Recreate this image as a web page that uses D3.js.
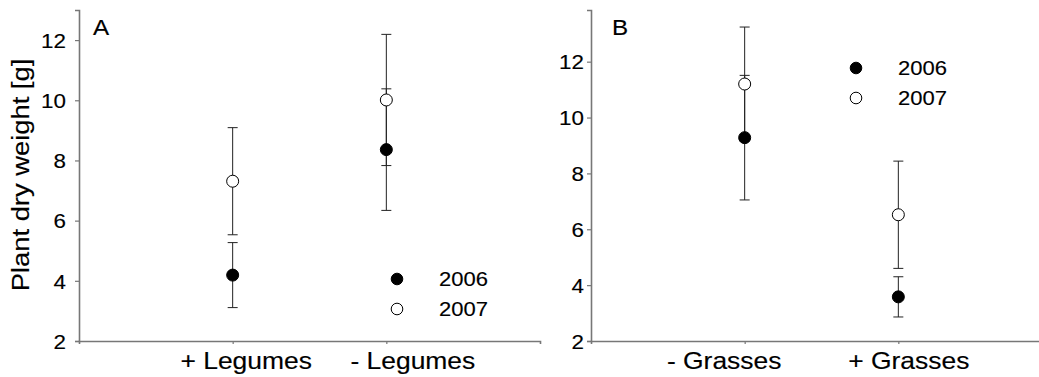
<!DOCTYPE html>
<html>
<head>
<meta charset="utf-8">
<script src="https://cdn.jsdelivr.net/npm/d3@7"></script>
<style>
  body { margin: 0; background: #fff; }
  svg { display: block; font-family: "Liberation Sans", Arial, Helvetica, sans-serif; }
  svg text { fill: #000; stroke: #000; stroke-width: 0.15px; }
</style>
</head>
<body>
<script>
// panel A: legumes
var categoriesA = ["+ Legumes", "- Legumes"];
var mean2006A = [4.19, 8.36];
var err2006A = [1.08, 2.02];
var mean2007A = [7.31, 10.01];
var err2007A = [1.78, 2.18];

// panel B: grasses
var categoriesB = ["- Grasses", "+ Grasses"];
var mean2006B = [9.28, 3.58];
var err2006B = [2.23, 0.72];
var mean2007B = [11.2, 6.52];
var err2007B = [2.04, 1.92];

var years = ["2006", "2007"];
var yTicks = [2, 4, 6, 8, 10, 12];
var yLabel = "Plant dry weight [g]";

var svgWidth = 1039;
var svgHeight = 377;
var axisBottom = 341;
var axisTop = 10;
var axisWidth = 461;
var stretch = 1.12;   // the original type is set a little wide

var svg = d3.select("body")
            .append("svg")
            .attr("width", svgWidth)
            .attr("height", svgHeight);

var panels = [
  {letter: "A", left: 79, yMax: 13, cats: categoriesA, tickGap: 13,
   m06: mean2006A, e06: err2006A, m07: mean2007A, e07: err2007A,
   legX: 318, legY: 279, labelShift: [13, 26], letterX: 14},
  {letter: "B", left: 591, yMax: 13.85, cats: categoriesB, tickGap: 7,
   m06: mean2006B, e06: err2006B, m07: mean2007B, e07: err2007B,
   legX: 265, legY: 68, labelShift: [-21, 10], letterX: 21}
];

panels.forEach(function(p) {
  var g = svg.append("g").attr("transform", "translate(" + p.left + ",0)");

  var yScale = d3.scaleLinear()
                 .domain([2, p.yMax])
                 .range([axisBottom, axisTop]);

  var xScale = d3.scalePoint()
                 .domain(p.cats)
                 .range([0, axisWidth])
                 .padding(1);

  // y axis
  var yAxis = g.append("g")
               .call(d3.axisLeft(yScale).tickValues(yTicks).tickSizeOuter(0).tickSize(4));
  yAxis.selectAll("text")
       .attr("x", null).attr("dy", "0.36em")
       .attr("transform", "translate(" + (-p.tickGap) + ",0) scale(" + stretch + ",1)")
       .style("font-size", "20px");

  // x axis
  var xAxis = g.append("g")
               .attr("transform", "translate(0," + axisBottom + ")")
               .call(d3.axisBottom(xScale).tickSizeOuter(0).tickSize(3));
  xAxis.selectAll("text")
       .attr("y", null).attr("dy", null)
       .attr("transform", function(d, i) {
         return "translate(" + p.labelShift[i] + ",28) scale(1.15,1)";
       })
       .style("font-size", "23px");

  [yAxis, xAxis].forEach(function(a) {
    a.select(".domain").attr("stroke", "#777").attr("stroke-width", 1.6);
    a.selectAll(".tick line").attr("stroke", "#777").attr("stroke-width", 1.2);
    a.attr("font-family", null).attr("font-size", null);
  });

  // series as rows of points
  var points = [];
  p.cats.forEach(function(c, i) {
    points.push({cat: c, year: "2006", m: p.m06[i], e: p.e06[i]});
    points.push({cat: c, year: "2007", m: p.m07[i], e: p.e07[i]});
  });

  // error bars first, circles on top
  var bars = g.selectAll(".err")
              .data(points)
              .enter().append("g")
              .attr("class", "err")
              .attr("stroke", "#222")
              .attr("stroke-width", 1);
  bars.append("line")
      .attr("x1", function(d) { return xScale(d.cat); })
      .attr("x2", function(d) { return xScale(d.cat); })
      .attr("y1", function(d) { return yScale(d.m - d.e); })
      .attr("y2", function(d) { return yScale(d.m + d.e); });
  [-1, 1].forEach(function(s) {
    bars.append("line")
        .attr("x1", function(d) { return xScale(d.cat) - 5; })
        .attr("x2", function(d) { return xScale(d.cat) + 5; })
        .attr("y1", function(d) { return yScale(d.m + s * d.e); })
        .attr("y2", function(d) { return yScale(d.m + s * d.e); });
  });

  g.selectAll(".pt")
   .data(points)
   .enter().append("circle")
   .attr("class", "pt")
   .attr("cx", function(d) { return xScale(d.cat); })
   .attr("cy", function(d) { return yScale(d.m); })
   .attr("r", 6)
   .attr("fill", function(d) { return d.year == "2006" ? "#000" : "#fff"; })
   .attr("stroke", "#000")
   .attr("stroke-width", 1);

  // legend
  var legend = g.selectAll(".legend")
                .data(years)
                .enter().append("g")
                .attr("class", "legend")
                .attr("transform", function(d, i) {
                  return "translate(" + p.legX + "," + (p.legY + i * 30) + ")";
                });
  legend.append("circle")
        .attr("r", 5.8)
        .attr("fill", function(d) { return d == "2006" ? "#000" : "#fff"; })
        .attr("stroke", "#000")
        .attr("stroke-width", 1);
  legend.append("text")
        .attr("transform", "translate(42,7) scale(1.13,1)")
        .style("font-size", "19.5px")
        .text(function(d) { return d; });

  // panel letter
  g.append("text")
   .attr("transform", "translate(" + p.letterX + ",35) scale(1.1,1)")
   .style("font-size", "22px")
   .text(p.letter);
});

// y title on the left panel only
svg.append("text")
   .attr("transform", "translate(29,175) rotate(-90) scale(1.14,1)")
   .attr("text-anchor", "middle")
   .style("font-size", "24px")
   .text(yLabel);
</script>
</body>
</html>
